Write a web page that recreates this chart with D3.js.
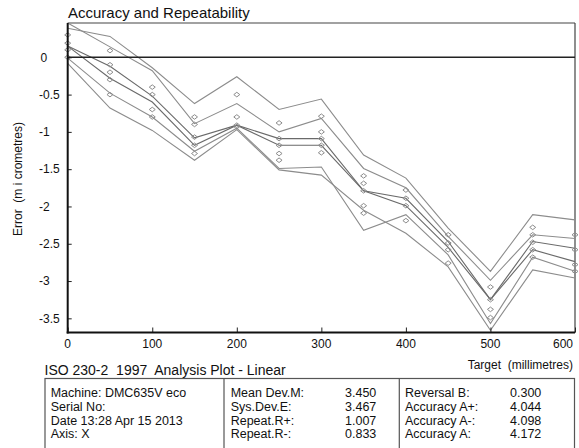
<!DOCTYPE html>
<html><head><meta charset="utf-8">
<script src="https://cdn.jsdelivr.net/npm/d3@7"></script>
<style>
html,body{margin:0;padding:0;background:#fff;}
svg text{font-family:"Liberation Sans",Arial,sans-serif;white-space:pre;}
</style></head>
<body>
<svg id="chart" width="579" height="448"></svg>
<script>
// ---- data ----
const targets = [0,50,100,150,200,250,300,350,400,450,500,550,600];
const envelope1 = [0.39,0.28,-0.14,-0.62,-0.26,-0.70,-0.56,-1.31,-1.62,-2.29,-2.87,-2.11,-2.18];
const envelope2 = [0.46,0.14,-0.18,-0.89,-0.62,-1.00,-0.82,-1.49,-1.75,-2.40,-2.99,-2.38,-2.43];
const meanFwd   = [0.15,-0.12,-0.52,-1.08,-0.91,-1.09,-1.09,-1.79,-1.89,-2.47,-3.25,-2.47,-2.56];
const meanRev   = [0.15,-0.28,-0.60,-1.18,-0.91,-1.18,-1.18,-1.79,-1.99,-2.55,-3.25,-2.58,-2.74];
const envelope3 = [-0.01,-0.48,-0.80,-1.26,-0.95,-1.49,-1.47,-2.32,-2.11,-2.65,-3.57,-2.68,-2.87];
const envelope4 = [-0.08,-0.68,-0.98,-1.38,-0.97,-1.51,-1.58,-2.05,-2.36,-2.81,-3.66,-2.85,-2.96];
const runPoints = [
  [0.30,0.19,0.10,0.00],
  [0.09,-0.10,-0.20,-0.30,-0.50],
  [-0.40,-0.50,-0.70,-0.80],
  [-0.80,-0.90,-1.07,-1.18,-1.29],
  [-0.50,-0.80,-0.91,-0.93],
  [-0.88,-1.09,-1.18,-1.29,-1.38],
  [-0.79,-1.00,-1.09,-1.18,-1.28],
  [-1.59,-1.69,-1.79,-1.99,-2.09],
  [-1.78,-1.89,-1.99,-2.19],
  [-2.38,-2.49,-2.58,-2.76],
  [-3.08,-3.25,-3.38,-3.49],
  [-2.28,-2.38,-2.48,-2.58,-2.68],
  [-2.38,-2.58,-2.78,-2.87]
];
const xTicks = [0,100,200,300,400,500,600];
const yTicks = [0,-0.5,-1,-1.5,-2,-2.5,-3,-3.5];
const title = "Accuracy and Repeatability";
const yTitle = "Error  (m i crometres)";
const xTitle = "Target  (millimetres)";
const subTitle = "ISO 230-2  1997  Analysis Plot - Linear";
const infoCol1 = ["Machine: DMC635V eco","Serial No:","Date 13:28 Apr 15 2013","Axis: X"];
const infoCol2Labels = ["Mean Dev.M:","Sys.Dev.E:","Repeat.R+:","Repeat.R-:"];
const infoCol2Values = ["3.450","3.467","1.007","0.833"];
const infoCol3Labels = ["Reversal B:","Accuracy A+:","Accuracy A-:","Accuracy A:"];
const infoCol3Values = ["0.300","4.044","4.098","4.172"];

// ---- layout ----
const svg = d3.select("#chart");
const L = 67.7, R = 575, T = 23, B = 332.5;
const x = d3.scaleLinear().domain([0,600]).range([L,R]);
const y = d3.scaleLinear().domain([-3.69,0.46]).range([B,T]);

// frame top/right
svg.append("line").attr("x1",L).attr("x2",R).attr("y1",T).attr("y2",T).attr("stroke","#444").attr("stroke-width",1.2);
svg.append("line").attr("x1",R).attr("x2",R).attr("y1",T).attr("y2",B).attr("stroke","#444").attr("stroke-width",1.2);

// data lines
const line = d3.line().x((d,i)=>x(targets[i])).y(d=>y(d));
const g = svg.append("g");
[envelope1,envelope2,envelope3,envelope4].forEach(s=>{
  g.append("path").attr("d",line(s)).attr("fill","none").attr("stroke","#8c8c8c").attr("stroke-width",1.1);
});
[meanFwd,meanRev].forEach(s=>{
  g.append("path").attr("d",line(s)).attr("fill","none").attr("stroke","#6a6a6a").attr("stroke-width",1.1);
});

// diamonds
const pts = [];
runPoints.forEach((arr,i)=>arr.forEach(v=>pts.push({t:targets[i],v})));
g.selectAll("path.pt").data(pts).enter().append("path").attr("class","pt")
  .attr("d",d=>{const cx=x(d.t), cy=y(d.v); return `M${cx-3},${cy}L${cx},${cy-2.3}L${cx+3},${cy}L${cx},${cy+2.3}Z`;})
  .attr("fill","none").attr("stroke","#8c8c8c").attr("stroke-width",1);

// zero line
svg.append("line").attr("x1",L).attr("x2",R).attr("y1",y(0)).attr("y2",y(0)).attr("stroke","#222").attr("stroke-width",1.4);

// axes
const yAxis = d3.axisRight(y).tickValues(yTicks).tickSize(4).tickFormat("");
const ya = svg.append("g").attr("transform",`translate(${L},0)`).call(yAxis);
ya.select(".domain").remove();
ya.selectAll("line").attr("stroke","#222");
const xAxis = d3.axisTop(x).tickValues(xTicks).tickSize(5).tickFormat("");
const xa = svg.append("g").attr("transform",`translate(0,${B})`).call(xAxis);
xa.select(".domain").remove();
xa.selectAll("line").attr("stroke","#222");
svg.append("line").attr("x1",L).attr("x2",L).attr("y1",T).attr("y2",B+1).attr("stroke","#111").attr("stroke-width",2);
svg.append("line").attr("x1",L-1).attr("x2",R).attr("y1",B).attr("y2",B).attr("stroke","#111").attr("stroke-width",2);

// tick labels
svg.selectAll("text.yl").data(yTicks).enter().append("text").attr("class","yl")
  .attr("x",d=>d===0?40.5:39).attr("y",d=>y(d)).attr("dy","0.35em")
  .attr("font-size",12).attr("fill","#111").text(d=>d3.format("")(d).replace("−","-"));
svg.selectAll("text.xl").data(xTicks).enter().append("text").attr("class","xl")
  .attr("x",d=>d===600?573:x(d)).attr("y",347.5)
  .attr("text-anchor",d=>d===600?"end":"middle")
  .attr("font-size",12).attr("fill","#111").text(d=>d);

// titles
svg.append("text").attr("x",68).attr("y",17.5).attr("font-size",15).attr("fill","#111").text(title);
svg.append("text").attr("transform","translate(22,179) rotate(-90)").attr("text-anchor","middle")
  .attr("font-size",12).attr("fill","#111").text(yTitle);
svg.append("text").attr("x",573).attr("y",368.5).attr("text-anchor","end").attr("font-size",12).attr("fill","#111").text(xTitle);
svg.append("text").attr("x",44.5).attr("y",374.5).attr("font-size",14).attr("fill","#111").text(subTitle);

// info table
const TB = 378.5;
svg.append("rect").attr("x",45).attr("y",TB).attr("width",574.5-45).attr("height",80)
  .attr("fill","none").attr("stroke","#555").attr("stroke-width",1.2);
[224,399.3].forEach(xx=>svg.append("line").attr("x1",xx).attr("x2",xx).attr("y1",TB).attr("y2",460).attr("stroke","#555").attr("stroke-width",1.2));
const rowY = i => 396.7 + i*13.9;
function col(arr,xx){ arr.forEach((s,i)=>svg.append("text").attr("x",xx).attr("y",rowY(i)).attr("font-size",12.5).attr("fill","#111").text(s)); }
col(infoCol1,50.7);
col(infoCol2Labels,230.7);
col(infoCol2Values,345);
col(infoCol3Labels,405);
col(infoCol3Values,510);
</script>
</body></html>
